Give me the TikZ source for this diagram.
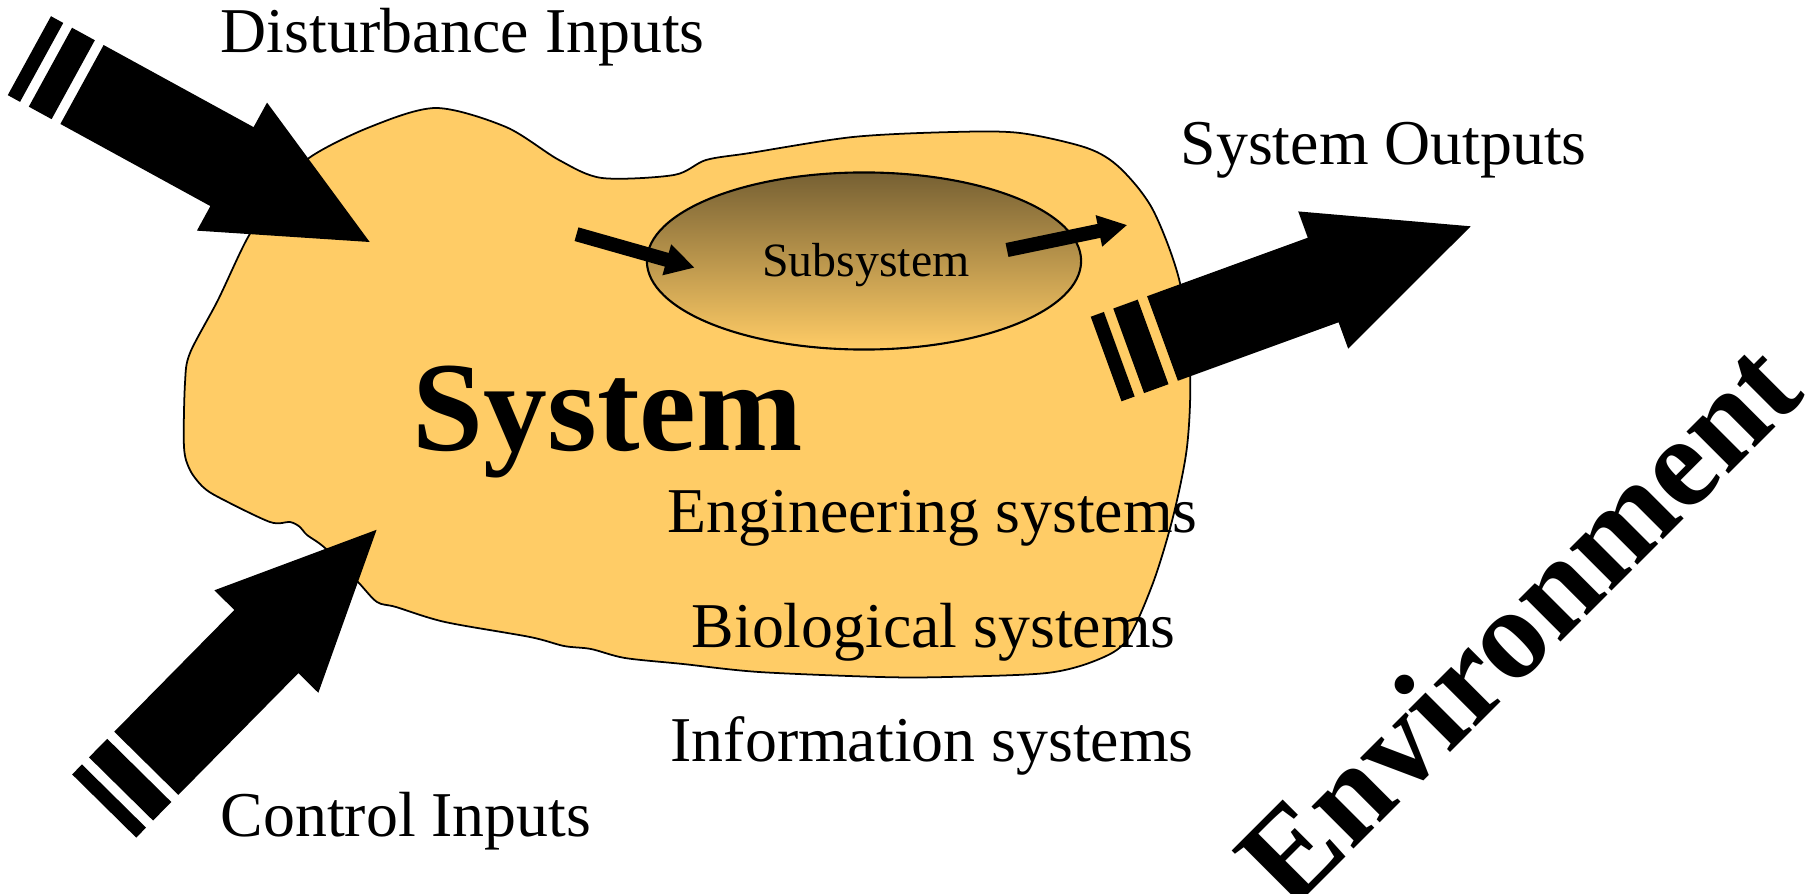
\documentclass[tikz,border=0pt]{standalone}
\usepackage{fontspec}
\setmainfont{Liberation Serif}
\usetikzlibrary{arrows.meta,shapes.geometric,positioning}
\definecolor{sysfill}{HTML}{FFCC66}
\definecolor{subdark}{HTML}{766033}
\tikzset{
  pics/fatarrow/.style={code={
    \fill (0,-45) -- (171,-45) -- (171,-73) -- (328,0) -- (171,73) -- (171,45) -- (0,45) -- cycle;
    \fill (-36,-45) rectangle (-10,45);
    \fill (-60,-45) rectangle (-46,45);
  }}
}
\begin{document}
\begin{tikzpicture}[x=0.01cm,y=-0.01cm,
    sysblob/.style={draw=black,line width=0.5pt,fill=sysfill},
    subsys/.style={ellipse,draw=black,line width=0.6pt,minimum width=4.34cm,minimum height=1.77cm,inner sep=0pt,top color=subdark,bottom color=sysfill},
    flowarrow/.style={line width=0.142cm,-{Triangle[length=0.29cm,width=0.30cm]}},
    plain/.style={inner sep=0pt,anchor=base west,font=\fontsize{18.15}{22}\selectfont},
  ]
  \useasboundingbox (0,0) rectangle (1817,894);
  % system boundary
  \draw[sysblob] plot[smooth cycle,tension=0.5] coordinates {
    (247,239) (275,196) (309,158) (370,127) (436,108) (506,127) (559,160)
    (602,178) (674,175) (706,160) (750,153) (853,137) (953,132) (1020,133)
    (1087,148) (1120,168) (1153,210) (1180,283) (1190,373) (1187,447)
    (1173,517) (1153,583) (1127,640) (1097,660) (1047,673) (947,677)
    (880,677) (759,672) (683,664) (625,658) (591,649) (564,646) (530,637)
    (445,622) (396,607) (377,602) (358,582) (325,548) (307,535) (300,527)
    (290,522) (270,522) (220,498) (203,487) (190,470) (184,447) (185,383)
    (190,353) (218,300)};
  % subsystem
  \node[subsys] (subsys) at (864,261) {};
  \node[inner sep=0pt,anchor=base,font=\fontsize{13.6}{16}\selectfont] (subsyslabel) at (866,277) {Subsystem};
  \coordinate (subInTail) at (576.5,234.2);
  \coordinate (subInTip) at (694.7,267.7);
  \coordinate (subOutTail) at (1007,250);
  \coordinate (subOutTip) at (1127.3,225);
  \draw[flowarrow] (subInTail) -- (subInTip);
  \draw[flowarrow] (subOutTail) -- (subOutTip);
  % inputs and outputs
  \pic[rotate=-28.7] at (82,84.5) {fatarrow};
  \pic[rotate=20] at (1162.5,338.5) {fatarrow};
  \pic[rotate=45.4] at (146.3,763.3) {fatarrow};
  % labels
  \node[plain] (distlabel) at (220,53) {Disturbance Inputs};
  \node[plain] (outlabel) at (1180,165) {System Outputs};
  \node[plain] (ctrllabel) at (220,836) {Control Inputs};
  \node[plain,font=\bfseries\fontsize{36.3}{40}\selectfont] (syslabel) at (412,450) {System};
  \node[plain] (englabel) at (667,532) {Engineering systems};
  \node[plain] (biolabel) at (691,647) {Biological systems};
  \node[plain] (infolabel) at (670,761) {Information systems};
  \node[inner sep=0pt,anchor=base,rotate=45,font=\bfseries\fontsize{36.8}{40}\selectfont] (envlabel) at (1549,654) {Environment};
\end{tikzpicture}
\end{document}
